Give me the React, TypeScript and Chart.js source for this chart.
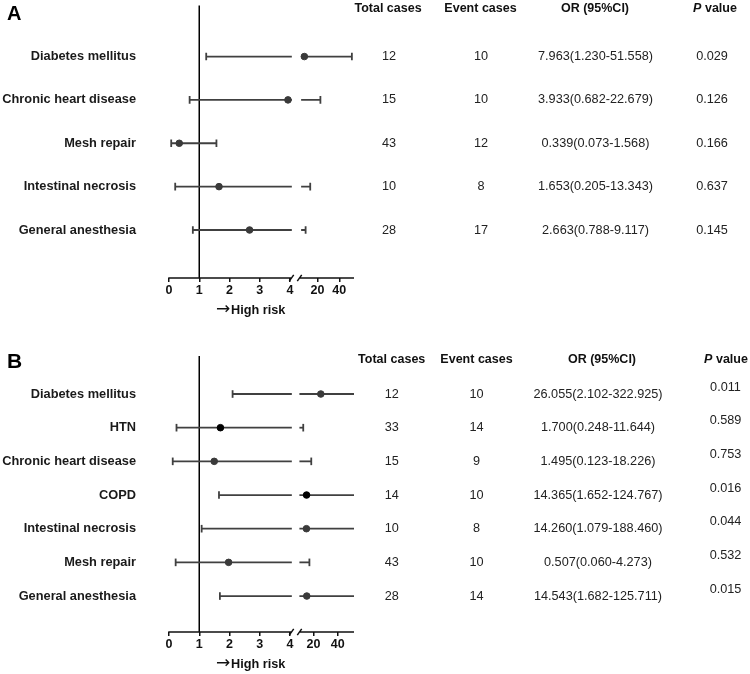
import React, { useEffect, useRef } from "react";
import { Chart, registerables } from "chart.js";

Chart.register(...registerables);

const FONT = "'Liberation Sans', Arial, Helvetica, sans-serif";
const LINE = "#404040";
const DOT = "#3a3a3a";
const BLACK = "#000000";

// ---------------- Panel A data ----------------
const factorsA = ["Diabetes mellitus", "Chronic heart disease", "Mesh repair", "Intestinal necrosis", "General anesthesia"];
const orA = [7.963, 3.933, 0.339, 1.653, 2.663];
const lowerA = [1.23, 0.682, 0.073, 0.205, 0.788];
const upperA = [51.558, 22.679, 1.568, 13.343, 9.117];
const totalA = ["12", "15", "43", "10", "28"];
const eventA = ["10", "10", "12", "8", "17"];
const orTextA = ["7.963(1.230-51.558)", "3.933(0.682-22.679)", "0.339(0.073-1.568)", "1.653(0.205-13.343)", "2.663(0.788-9.117)"];
const pA = ["0.029", "0.126", "0.166", "0.637", "0.145"];
const dotA = [DOT, DOT, DOT, DOT, DOT];

// ---------------- Panel B data ----------------
const factorsB = ["Diabetes mellitus", "HTN", "Chronic heart disease", "COPD", "Intestinal necrosis", "Mesh repair", "General anesthesia"];
const orB = [26.055, 1.7, 1.495, 14.365, 14.26, 1.97, 14.543];
const lowerB = [2.102, 0.248, 0.123, 1.652, 1.079, 0.22, 1.682];
const upperB = [322.925, 11.644, 18.226, 124.767, 188.46, 16.7, 125.711];
const totalB = ["12", "33", "15", "14", "10", "43", "28"];
const eventB = ["10", "14", "9", "10", "8", "10", "14"];
const orTextB = ["26.055(2.102-322.925)", "1.700(0.248-11.644)", "1.495(0.123-18.226)", "14.365(1.652-124.767)", "14.260(1.079-188.460)", "0.507(0.060-4.273)", "14.543(1.682-125.711)"];
const pB = ["0.011", "0.589", "0.753", "0.016", "0.044", "0.532", "0.015"];
const dotB = [DOT, BLACK, DOT, BLACK, DOT, DOT, DOT];

// ---------------- axis tick labels ----------------
const leftTicks = [0, 1, 2, 3, 4];
const rightTicks = [20, 40];
const headers = ["Total cases", "Event cases", "OR (95%CI)"];
const riskArrow = "\u2192";
const riskLabel = "High risk";

type Panel = {
  letter: string;
  factors: string[];
  or: number[];
  lower: number[];
  upper: number[];
  total: string[];
  events: string[];
  orText: string[];
  p: string[];
  dotColors: string[];
  height: number;
  padTop: number;
  yMin: number;
  yMax: number;
  leftMax: number;
  leftEnd: number;
  rightMin: number;
  rightMax: number;
  rightStart: number;
  headerY: number;
  headerCols: number[];
  valueCols: number[];
  pShift: number;
  letterY: number;
  letterSize: number;
};

const panelA: Panel = {
  letter: "A",
  factors: factorsA, or: orA, lower: lowerA, upper: upperA,
  total: totalA, events: eventA, orText: orTextA, p: pA, dotColors: dotA,
  height: 320, padTop: 0, yMin: -1.175, yMax: 5.107,
  leftMax: 4.198, leftEnd: 4.06, rightMin: 0.3, rightMax: 53.5, rightStart: 5,
  headerY: 8.5, headerCols: [388, 480.5, 595, 715], valueCols: [389, 481, 595.5, 712],
  pShift: 0, letterY: 14, letterSize: 20,
};

const panelB: Panel = {
  letter: "B",
  factors: factorsB, or: orB, lower: lowerB, upper: upperB,
  total: totalB, events: eventB, orText: orTextB, p: pB, dotColors: dotB,
  height: 354, padTop: 36, yMin: -1.129, yMax: 7.068,
  leftMax: 4.198, leftEnd: 4.06, rightMin: 5.7, rightMax: 53.3, rightStart: 8.5,
  headerY: 39.5, headerCols: [391.7, 476.5, 602, 726], valueCols: [391.7, 476.5, 598, 725.5],
  pShift: -7, letterY: 42, letterSize: 21,
};

function segment(axis: string, a: number, b: number, row: number, capA: boolean, capB: boolean) {
  return {
    data: [{ x: a, y: row }, { x: b, y: row }],
    xAxisID: axis,
    yAxisID: "y",
    showLine: true,
    borderColor: LINE,
    borderWidth: 1.8,
    pointStyle: "line",
    pointRotation: 90,
    pointRadius: [capA ? 3.8 : 0, capB ? 3.8 : 0],
    pointHoverRadius: 0,
    pointBorderColor: LINE,
    pointBackgroundColor: LINE,
    pointBorderWidth: 1.8,
    tension: 0,
    order: 1,
  };
}

function buildDatasets(p: Panel) {
  const leftPts: any[] = [];
  const rightPts: any[] = [];
  const leftCol: string[] = [];
  const rightCol: string[] = [];
  p.or.forEach((v, i) => {
    if (v <= p.leftEnd) {
      leftPts.push({ x: v, y: i });
      leftCol.push(p.dotColors[i]);
    } else {
      rightPts.push({ x: v, y: i });
      rightCol.push(p.dotColors[i]);
    }
  });
  const ds: any[] = [
    { data: leftPts, xAxisID: "x", yAxisID: "y", showLine: false, pointRadius: 3.3, pointHoverRadius: 3.3, pointBackgroundColor: leftCol, pointBorderColor: leftCol, pointBorderWidth: 1, order: 0 },
    { data: rightPts, xAxisID: "x2", yAxisID: "y", showLine: false, pointRadius: 3.3, pointHoverRadius: 3.3, pointBackgroundColor: rightCol, pointBorderColor: rightCol, pointBorderWidth: 1, order: 0 },
  ];
  p.lower.forEach((lo, i) => {
    const hi = p.upper[i];
    if (lo < p.leftEnd) {
      const end = Math.min(hi, p.leftEnd);
      ds.push(segment("x", lo, end, i, true, hi <= p.leftEnd));
    }
    if (hi > p.leftEnd) {
      const start = Math.max(lo, p.rightStart);
      ds.push(segment("x2", start, hi, i, lo >= p.rightStart, hi <= p.rightMax));
    }
  });
  return ds;
}

function makePlugin(p: Panel) {
  return {
    id: "forestDecor",
    beforeDatasetsDraw(chart: any) {
      const ctx = chart.ctx;
      const area = chart.chartArea;
      const xs = chart.scales.x;
      const x1 = xs.getPixelForValue(1);
      ctx.save();
      ctx.strokeStyle = BLACK;
      ctx.lineWidth = 1.5;
      ctx.beginPath();
      ctx.moveTo(x1, area.top);
      ctx.lineTo(x1, area.bottom);
      ctx.stroke();
      ctx.restore();
    },
    afterDraw(chart: any) {
      const ctx = chart.ctx;
      const area = chart.chartArea;
      const xs = chart.scales.x;
      const x2 = chart.scales.x2;
      const ys = chart.scales.y;
      const y0 = area.bottom;
      ctx.save();
      // broken axis
      ctx.strokeStyle = "#111";
      ctx.lineWidth = 1.5;
      const p4 = xs.getPixelForValue(4);
      const s1 = p4 + 1.5;
      const s2 = x2.left + 3.5;
      ctx.beginPath();
      ctx.moveTo(xs.getPixelForValue(0) - 0.75, y0);
      ctx.lineTo(s1, y0);
      ctx.moveTo(s2, y0);
      ctx.lineTo(area.right, y0);
      ctx.moveTo(s1 - 2.2, y0 + 3.2);
      ctx.lineTo(s1 + 2.2, y0 - 3.2);
      ctx.moveTo(s2 - 2.2, y0 + 3.2);
      ctx.lineTo(s2 + 2.2, y0 - 3.2);
      ctx.stroke();

      // panel letter
      ctx.fillStyle = "#000";
      ctx.textBaseline = "middle";
      ctx.textAlign = "left";
      ctx.font = `bold ${p.letterSize}px ${FONT}`;
      ctx.fillText(p.letter, 7, p.letterY);

      // high risk label
      ctx.fillStyle = "#111";
      ctx.font = `17px 'DejaVu Sans', sans-serif`;
      ctx.fillText(riskArrow, 216, y0 + 32);
      ctx.font = `bold 12.7px ${FONT}`;
      ctx.fillText(riskLabel, 231, y0 + 32);

      // headers
      ctx.fillStyle = "#111";
      ctx.font = `bold 12.5px ${FONT}`;
      ctx.textAlign = "center";
      headers.forEach((h, k) => ctx.fillText(h, p.headerCols[k], p.headerY));
      ctx.font = `italic bold 12.5px ${FONT}`;
      const wP = ctx.measureText("P").width;
      ctx.font = `bold 12.5px ${FONT}`;
      const wV = ctx.measureText(" value").width;
      const startP = p.headerCols[3] - (wP + wV) / 2;
      ctx.textAlign = "left";
      ctx.font = `italic bold 12.5px ${FONT}`;
      ctx.fillText("P", startP, p.headerY);
      ctx.font = `bold 12.5px ${FONT}`;
      ctx.fillText(" value", startP + wP, p.headerY);

      // table values
      ctx.textAlign = "center";
      ctx.fillStyle = "#222";
      ctx.font = `12.7px ${FONT}`;
      p.factors.forEach((_, i) => {
        const y = ys.getPixelForValue(i);
        ctx.fillText(p.total[i], p.valueCols[0], y);
        ctx.fillText(p.events[i], p.valueCols[1], y);
        ctx.fillText(p.orText[i], p.valueCols[2], y);
        ctx.fillText(p.p[i], p.valueCols[3], y + p.pShift);
      });
      ctx.restore();
    },
  };
}

function makeChart(canvas: HTMLCanvasElement, p: Panel) {
  const chartW = 354 - 169;
  const leftW = 296 - 169;
  const rightW = chartW - leftW;
  const tickFont = { family: FONT, size: 12.5, weight: "bold" as const };
  const xGrid = { display: true, drawOnChartArea: false, drawTicks: true, tickLength: 4, color: "#111", lineWidth: 1.5 };
  return new Chart(canvas, {
    type: "scatter",
    data: { datasets: buildDatasets(p) as any },
    plugins: [makePlugin(p) as any],
    options: {
      animation: false,
      responsive: false,
      events: [],
      layout: { padding: { left: 0, right: 750 - 354, top: p.padTop, bottom: 0 } },
      plugins: { legend: { display: false }, tooltip: { enabled: false } },
      scales: {
        x: {
          type: "linear",
          position: "bottom",
          stack: "xs",
          stackWeight: leftW,
          min: 0,
          max: p.leftMax,
          afterBuildTicks: (s: any) => { s.ticks = leftTicks.map((v) => ({ value: v })); },
          afterFit: (s: any) => { s.height = 42; s.paddingLeft = 0; s.paddingRight = 0; },
          grid: xGrid,
          border: { display: false },
          ticks: { font: tickFont, color: "#111", padding: 1, maxRotation: 0, autoSkip: false },
        },
        x2: {
          type: "linear",
          position: "bottom",
          stack: "xs",
          stackWeight: rightW,
          min: p.rightMin,
          max: p.rightMax,
          afterBuildTicks: (s: any) => { s.ticks = rightTicks.map((v) => ({ value: v })); },
          afterFit: (s: any) => { s.height = 42; s.paddingLeft = 0; s.paddingRight = 0; },
          grid: xGrid,
          border: { display: false },
          ticks: { font: tickFont, color: "#111", padding: 1, maxRotation: 0, autoSkip: false },
        },
        y: {
          type: "linear",
          position: "left",
          reverse: true,
          min: p.yMin,
          max: p.yMax,
          afterBuildTicks: (s: any) => { s.ticks = p.factors.map((_, i) => ({ value: i })); },
          afterFit: (s: any) => { s.width = 169; s.paddingTop = 0; s.paddingBottom = 0; },
          grid: { display: false, drawTicks: false },
          border: { display: false },
          ticks: {
            padding: 33,
            color: "#1a1a1a",
            font: { family: FONT, size: 12.8, weight: "bold" },
            callback: (v: any) => p.factors[Number(v)] ?? "",
            autoSkip: false,
          },
        },
      } as any,
    },
  });
}

function ForestPanel({ panel }: { panel: Panel }) {
  const ref = useRef<HTMLCanvasElement | null>(null);
  useEffect(() => {
    if (!ref.current) return;
    const chart = makeChart(ref.current, panel);
    return () => chart.destroy();
  }, [panel]);
  return <canvas ref={ref} width={750} height={panel.height} style={{ display: "block", width: 750, height: panel.height }} />;
}

export default function App() {
  return (
    <div style={{ position: "absolute", left: 0, top: 0, width: 750, height: 674, background: "#ffffff" }}>
      <ForestPanel panel={panelA} />
      <ForestPanel panel={panelB} />
    </div>
  );
}
